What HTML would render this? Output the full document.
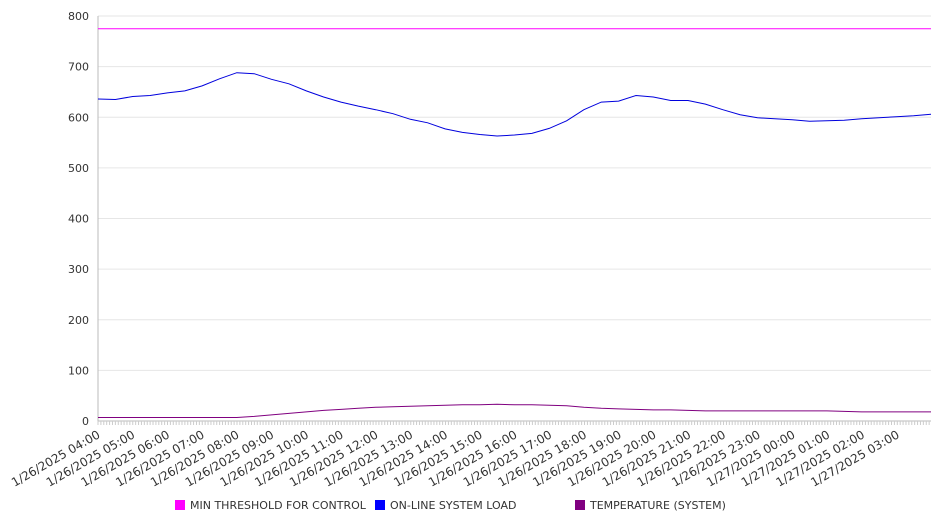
<!DOCTYPE html>
<html><head><meta charset="utf-8"><style>
body{margin:0;background:#fff;font-family:"Liberation Sans","DejaVu Sans",sans-serif}
svg text{font-family:"DejaVu Sans","Liberation Sans",sans-serif;fill:#333}
</style></head><body>
<svg id="chart" width="946" height="526" xmlns="http://www.w3.org/2000/svg">
<g id="grid"></g>
<g id="axes"></g>
<g id="series"></g>
<g id="legend">
<rect x="175" y="500" width="10" height="10" fill="#ff00ff"/>
<text x="190" y="509" font-size="11">MIN THRESHOLD FOR CONTROL</text>
<rect x="375" y="500" width="10" height="10" fill="#0000ff"/>
<text x="390" y="509" font-size="11">ON-LINE SYSTEM LOAD</text>
<rect x="575" y="500" width="10" height="10" fill="#800080"/>
<text x="590" y="509" font-size="11">TEMPERATURE (SYSTEM)</text>
</g>
</svg>
<script>
const hourLabels=["1/26/2025 04:00","1/26/2025 05:00","1/26/2025 06:00","1/26/2025 07:00","1/26/2025 08:00","1/26/2025 09:00","1/26/2025 10:00","1/26/2025 11:00","1/26/2025 12:00","1/26/2025 13:00","1/26/2025 14:00","1/26/2025 15:00","1/26/2025 16:00","1/26/2025 17:00","1/26/2025 18:00","1/26/2025 19:00","1/26/2025 20:00","1/26/2025 21:00","1/26/2025 22:00","1/26/2025 23:00","1/27/2025 00:00","1/27/2025 01:00","1/27/2025 02:00","1/27/2025 03:00"];
const yTicks=[0,100,200,300,400,500,600,700,800];
const loadValues=[636,635,641,643,648,652,662,676,688,686,675,666,652,640,630,622,615,607,596,589,577,570,566,563,565,568,578,593,615,630,632,643,640,633,633,626,615,605,599,597,595,592,593,594,597,599,601,603,606];
const thresholdValues=[775,775];
const tempValues=[7,7,7,7,7,7,7,7,7,9,12,15,18,21,23,25,27,28,29,30,31,32,32,33,32,32,31,30,27,25,24,23,22,22,21,20,20,20,20,20,20,20,20,19,18,18,18,18,18];
const X0=98,X1=931,Y0=421,Y1=16,HOURS=23.97;
const xs=h=>X0+(X1-X0)*h/HOURS;
const ys=v=>Y0-(Y0-Y1)*v/800;
const NS="http://www.w3.org/2000/svg";
function mk(tag,attrs,parent){const e=document.createElementNS(NS,tag);for(const k in attrs)e.setAttribute(k,attrs[k]);document.getElementById(parent).appendChild(e);return e;}
yTicks.forEach(v=>{
 const g=mk('line',{x1:X0,x2:X1,y1:ys(v),y2:ys(v),stroke:v===0?'#bbb':'#e6e6e6','stroke-width':1},'grid');
 
 
 const t=mk('text',{x:89,y:ys(v)+4,'text-anchor':'end','font-size':11},'axes');t.textContent=v;
 
 
});
const ax=mk('line',{x1:X0,x2:X0,y1:Y1,y2:Y0,stroke:'#bbb'},'axes');


for(let m=0;m<=HOURS*60;m+=5){const x=xs(m/60);const tk=mk('line',{x1:x,x2:x,y1:Y0,y2:Y0+4,stroke:'#ccc'},'axes');
 
 }
hourLabels.forEach((l,i)=>{const x=xs(i)+3;const y=Y0+16;const t=mk('text',{x:x,y:y,'text-anchor':'end','font-size':12,transform:`rotate(-30 ${x} ${y})`},'axes');t.textContent=l;
 
 });
function line(vals,color,name){const n=vals.length;const pts=vals.map((v,i)=>xs(HOURS*i/(n-1)).toFixed(1)+','+ys(v).toFixed(1)).join(' ');
 const p=mk('polyline',{points:pts,fill:'none',stroke:color,'stroke-width':1},'series');
 
 }
line(thresholdValues,'#ff00ff','threshold-line');
line(tempValues,'#800080','temperature-line');
line(loadValues,'#0000dd','load-line');
</script>
</body></html>
